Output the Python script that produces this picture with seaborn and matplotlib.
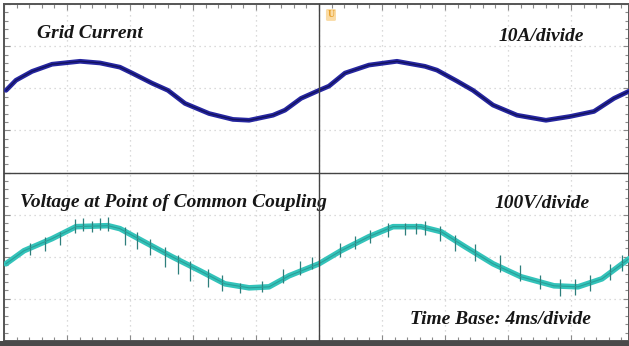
import numpy as np
import pandas as pd
import matplotlib
matplotlib.use("Agg")
import matplotlib.pyplot as plt
from matplotlib.ticker import MultipleLocator
import seaborn as sns

# ---- data ----
# time in ms (0 = screen centre), 4 ms per division
current_time = [-19.87, -19.24, -18.22, -16.95, -15.17, -13.90, -12.64, -11.87, -10.60, -9.59,
                -8.51, -6.98, -5.46, -4.44, -2.92, -2.16, -1.14, 0.0, 0.63, 1.65, 3.17, 4.95,
                6.73, 7.49, 8.76, 9.78, 11.05, 12.57, 14.41, 15.94, 17.46, 18.73, 19.68]
# grid current in A (10 A/div)
current_amp = [-0.5, 1.9, 4.0, 5.7, 6.4, 6.0, 5.0, 3.6, 1.2, -0.5,
               -3.6, -6.0, -7.4, -7.6, -6.4, -5.2, -2.4, -0.5, 0.5, 3.6, 5.5, 6.4,
               5.2, 4.3, 1.7, -0.5, -4.0, -6.4, -7.6, -6.7, -5.5, -2.4, -0.7]

voltage_time = [-19.88, -18.73, -16.95, -15.43, -13.40, -12.64, -11.11, -9.33, -7.56, -5.97,
                -4.44, -3.17, -1.90, 0.0, 1.40, 3.17, 4.70, 6.48, 7.75, 9.27, 11.05, 12.83,
                14.92, 16.45, 17.97, 19.68]
# PCC voltage in V (100 V/div)
voltage_volt = [-16.7, 14.3, 42.9, 71.4, 73.8, 66.7, 35.7, 0.0, -33.3, -64.3,
                -73.8, -71.4, -45.2, -16.7, 14.3, 47.6, 71.4, 71.4, 59.5, 23.8, -16.7, -47.6,
                -69.0, -71.4, -52.4, -4.8]

# switching spikes on the voltage trace (time, low V, high V)
spike_time = [-18.35, -17.40, -16.45, -15.49, -14.99, -14.41, -13.91, -13.40, -12.32, -11.56,
              -10.73, -9.78, -8.95, -8.19, -7.05, -6.16, -5.02, -3.62, -2.29, -1.21, -0.44,
              1.33, 2.29, 3.24, 4.38, 5.46, 6.16, 6.73, 7.68, 8.64, 9.91, 11.49, 12.76,
              14.03, 15.30, 16.26, 17.21, 18.48, 19.24]
spike_low = [4.8, 14.3, 28.6, 57.1, 61.9, 59.5, 64.3, 61.9, 28.6, 19.0,
             4.8, -23.8, -40.5, -57.1, -71.4, -81.0, -85.7, -83.3, -61.9, -42.9, -28.6,
             0.0, 19.0, 33.3, 47.6, 52.4, 54.8, 52.4, 38.1, 14.3, -9.5, -35.7, -57.1,
             -76.2, -92.9, -90.5, -81.0, -54.8, -33.3]
spike_high = [33.3, 47.6, 59.5, 90.5, 92.9, 85.7, 92.9, 95.2, 71.4, 59.5,
              42.9, 23.8, 4.8, -9.5, -28.6, -42.9, -61.9, -57.1, -28.6, -9.5, 0.0,
              33.3, 50.0, 64.3, 81.0, 81.0, 81.0, 85.7, 73.8, 52.4, 31.0, 4.8, -19.0,
              -42.9, -52.4, -52.4, -42.9, -16.7, 4.8]

labels = {
    "current": "Grid Current",
    "current_scale": "10A/divide",
    "voltage": "Voltage at Point of Common Coupling",
    "voltage_scale": "100V/divide",
    "time": "Time Base: 4ms/divide",
}

# ---- screen placement (divisions) ----
AMP_PER_DIV, VOLT_PER_DIV, MS_PER_DIV = 10.0, 100.0, 4.0
CUR_OFFSET, VOLT_OFFSET = 2.0, -2.0

df_cur = pd.DataFrame({"t": current_time,
                       "div": np.array(current_amp) / AMP_PER_DIV + CUR_OFFSET})
df_volt = pd.DataFrame({"t": voltage_time,
                        "div": np.array(voltage_volt) / VOLT_PER_DIV + VOLT_OFFSET})

sns.set_style("white")
plt.rcParams["font.family"] = ["Liberation Serif", "DejaVu Serif"]

W, H = 629, 346
fig = plt.figure(figsize=(W / 100, H / 100), dpi=100)
fig.patch.set_facecolor("white")

# axes covering the screen: left edge at px 4, bottom at px 341, top at px 4
ax_left = 4 / W
ax_bottom = (H - 341) / H
ax_h = 337 / H
xmin = -5 * MS_PER_DIV
xmax = xmin + (W - 4) / 63.0 * MS_PER_DIV
ax = fig.add_axes([ax_left, ax_bottom, 1 - ax_left, ax_h])
ax.set_xlim(xmin, xmax)
ax.set_ylim(-4, 4)
ax.set_facecolor("white")

# dotted graticule
ax.xaxis.set_major_locator(MultipleLocator(MS_PER_DIV))
ax.yaxis.set_major_locator(MultipleLocator(1))
ax.grid(True, which="major", color="#cfcfcf", linestyle=(0, (1, 3)), linewidth=0.9)
ax.set_xticklabels([])
ax.set_yticklabels([])
ax.xaxis.set_minor_locator(MultipleLocator(MS_PER_DIV / 5))
ax.yaxis.set_minor_locator(MultipleLocator(0.2))
ax.tick_params(which="both", direction="in", length=3, color="#8a8a8a", width=0.8,
               top=True, right=True, bottom=True, left=True)
ax.tick_params(which="major", length=4)
for s in ax.spines.values():
    s.set_color("#555555")
    s.set_linewidth(1.4)

# centre cross lines with ticks
axc = fig.add_axes(ax.get_position(), facecolor="none")
axc.set_xlim(ax.get_xlim())
axc.set_ylim(ax.get_ylim())
axc.spines["left"].set_position(("data", 0))
axc.spines["bottom"].set_position(("data", 0))
axc.spines["right"].set_visible(False)
axc.spines["top"].set_visible(False)
for s in ("left", "bottom"):
    axc.spines[s].set_color("#444444")
    axc.spines[s].set_linewidth(1.0)
axc.xaxis.set_major_locator(MultipleLocator(MS_PER_DIV))
axc.yaxis.set_major_locator(MultipleLocator(1))
axc.xaxis.set_minor_locator(MultipleLocator(MS_PER_DIV / 5))
axc.yaxis.set_minor_locator(MultipleLocator(0.2))
axc.tick_params(which="both", direction="inout", length=4, color="#555555", width=0.9,
                labelbottom=False, labelleft=False)
axc.tick_params(which="major", length=6)

# traces
sns.lineplot(data=df_volt, x="t", y="div", ax=ax, color="#33c3ba", linewidth=4.0,
             sort=False, estimator=None, zorder=3)
ax.vlines(spike_time, np.array(spike_low) / VOLT_PER_DIV + VOLT_OFFSET,
          np.array(spike_high) / VOLT_PER_DIV + VOLT_OFFSET,
          color="#2e7f7c", linewidth=0.9, zorder=4)
sns.lineplot(data=df_volt, x="t", y="div", ax=ax, color="#2a9f98", linewidth=0.8,
             sort=False, estimator=None, zorder=4)
sns.lineplot(data=df_cur, x="t", y="div", ax=ax, color="#2626a0", linewidth=3.4,
             sort=False, estimator=None, zorder=3)
sns.lineplot(data=df_cur, x="t", y="div", ax=ax, color="#12125e", linewidth=1.0,
             sort=False, estimator=None, zorder=4)
for a in (ax, axc):
    a.set_xlabel("")
    a.set_ylabel("")

# annotations
tkw = dict(fontsize=14, fontweight="bold", fontstyle="italic", color="#161616",
           va="center", ha="left", zorder=6)
ax.text(-17.9, 3.31, labels["current"], **tkw)
ax.text(11.37, 3.24, labels["current_scale"], **tkw)
ax.text(-18.98, -0.71, labels["voltage"], **tkw)
ax.text(11.17, -0.74, labels["voltage_scale"], **tkw)
ax.text(5.78, -3.48, labels["time"], **tkw)

# trigger marker
ax.text(0.76, 3.74, "U", fontsize=7, fontweight="bold", color="#e8a02a",
        ha="center", va="center", zorder=6,
        bbox=dict(boxstyle="round,pad=0.15", fc="#f7c46a", ec="none", alpha=0.6))

# dark bottom bezel
fig.patches.append(plt.Rectangle((0, 0), 1, ax_bottom, transform=fig.transFigure,
                                 facecolor="#4a4a4a", edgecolor="none", zorder=0))

fig.savefig("out.png", dpi=100, facecolor="white")
